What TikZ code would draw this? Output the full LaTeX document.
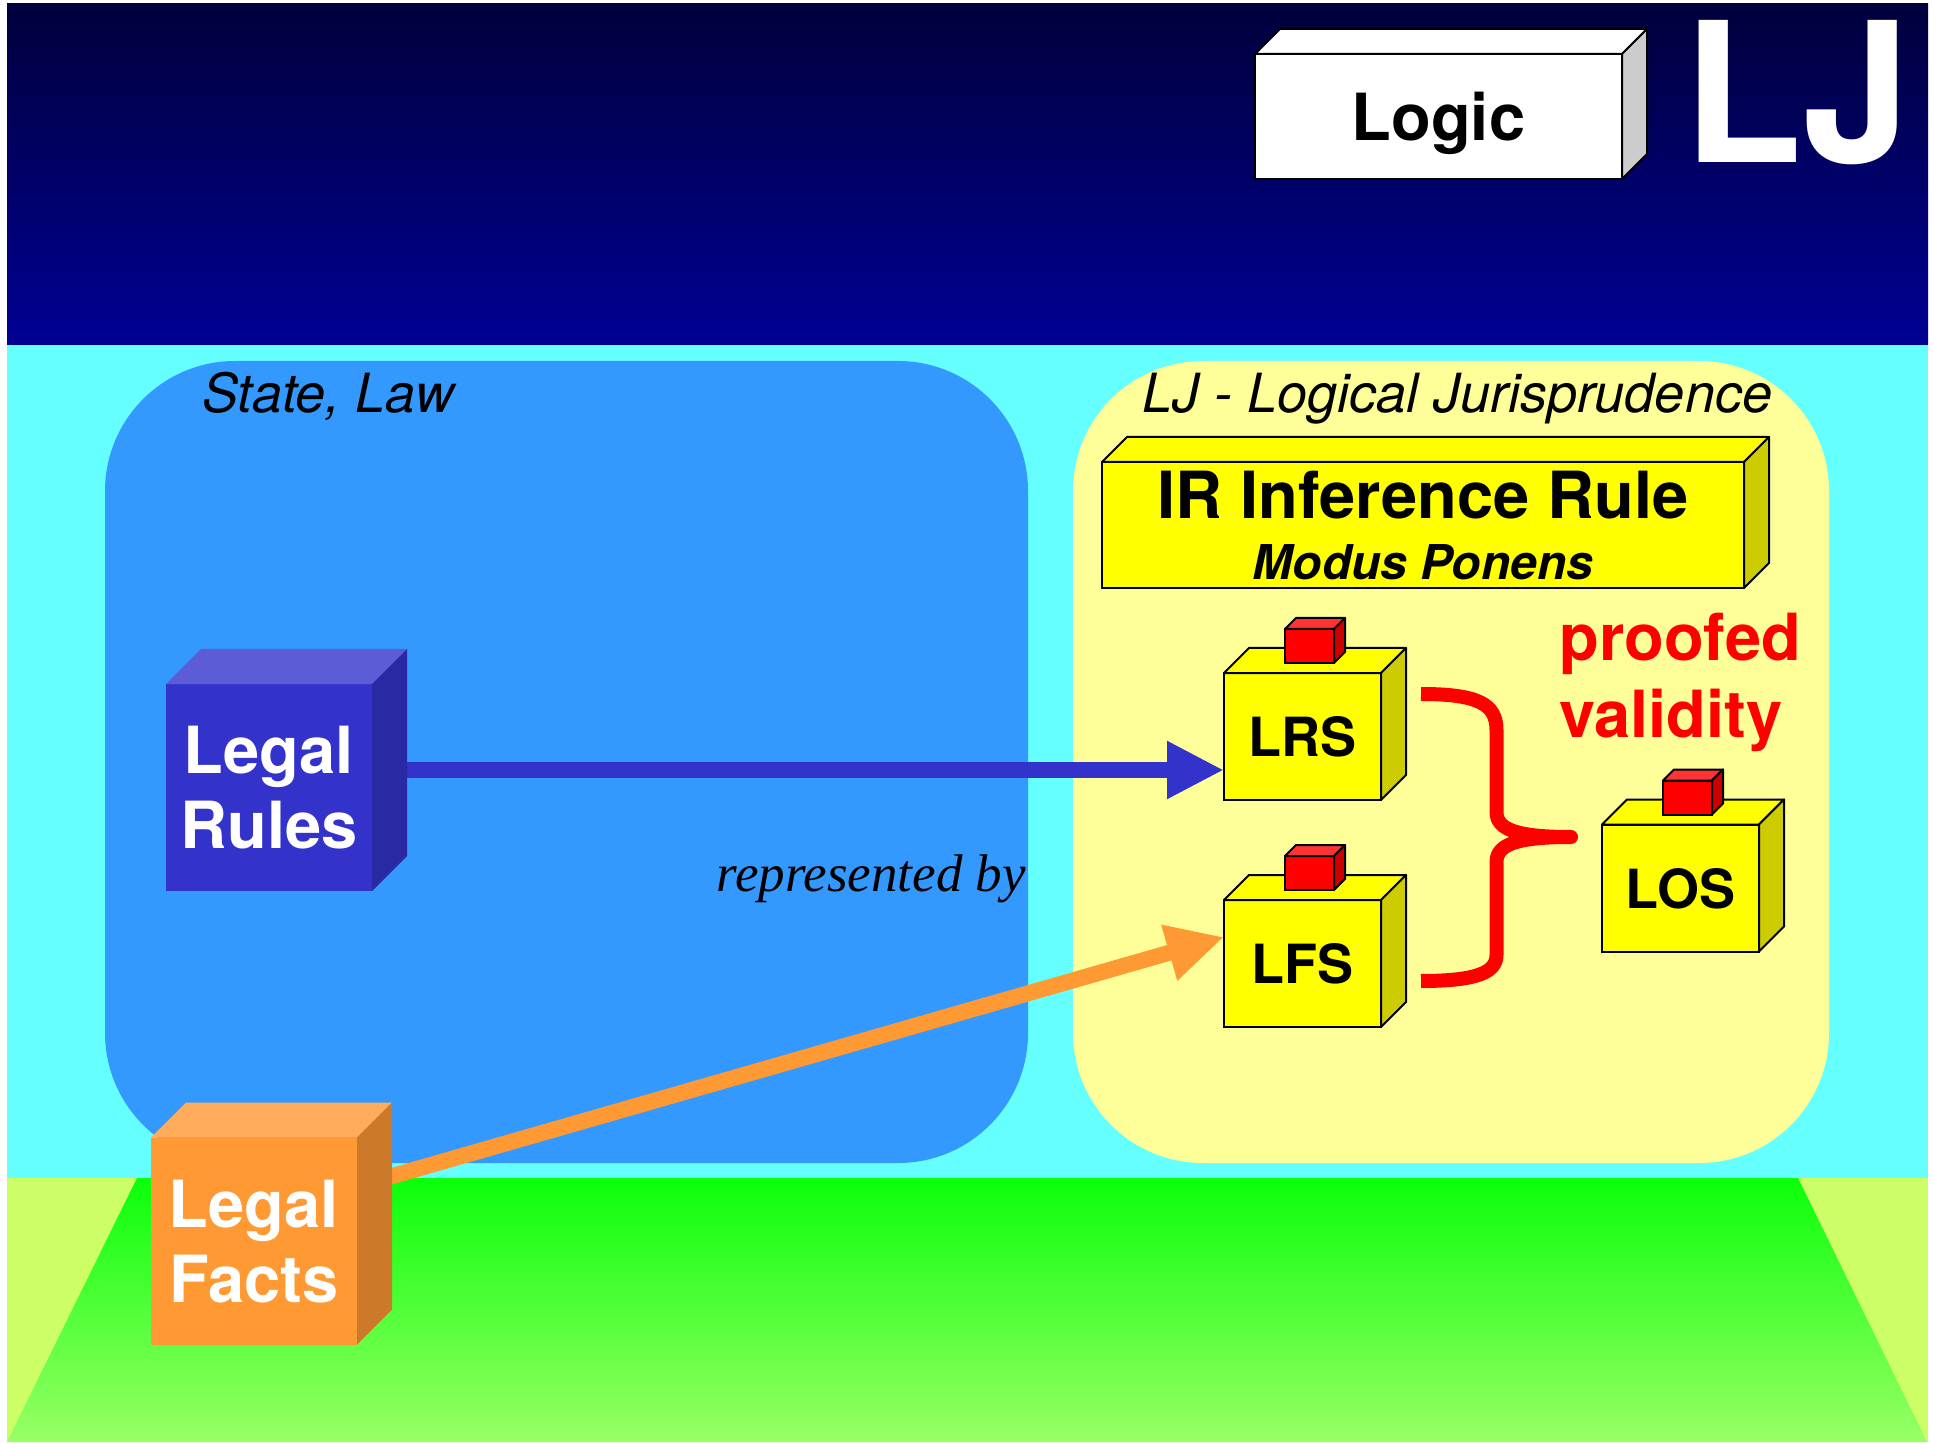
\documentclass[tikz,border=0pt]{standalone}
\usepackage{fontspec}
\setmainfont{TeX Gyre Heros}
\newfontfamily\timesfont{Liberation Serif}
\usetikzlibrary{positioning,arrows.meta}
\definecolor{bandtop}{RGB}{0,0,60}
\definecolor{bandbot}{RGB}{0,0,148}
\definecolor{skycyan}{RGB}{102,255,255}
\definecolor{lawblue}{RGB}{51,153,255}
\definecolor{ljyellow}{RGB}{255,255,153}
\definecolor{floorside}{RGB}{204,255,102}
\definecolor{floortop}{RGB}{10,255,10}
\definecolor{floorbot}{RGB}{153,255,102}
\definecolor{rulesfront}{RGB}{51,51,204}
\definecolor{rulestop}{RGB}{92,92,214}
\definecolor{rulesside}{RGB}{41,41,163}
\definecolor{factsfront}{RGB}{255,153,51}
\definecolor{factstop}{RGB}{255,173,92}
\definecolor{factsside}{RGB}{204,122,41}
\definecolor{boxyellow}{RGB}{255,255,0}
\definecolor{boxside}{RGB}{204,204,0}
\definecolor{redfront}{RGB}{255,0,0}
\definecolor{redtop}{RGB}{255,51,51}
\definecolor{redside}{RGB}{204,0,0}
\definecolor{logicside}{RGB}{204,204,204}
\tikzstyle{region}=[rounded corners=65pt, minimum height=401pt, inner sep=0pt]
\tikzstyle{regiontitle}=[font=\fontsize{27}{32}\selectfont\itshape, anchor=base, inner sep=0pt]
\tikzstyle{cube}=[draw, line width=1pt, fill=boxyellow, minimum width=78.5pt,
    minimum height=63.5pt, inner sep=0pt, outer sep=0pt, text depth=0pt,
    font=\fontsize{27}{32}\selectfont\bfseries]
\tikzstyle{rulebox}=[cube, minimum width=321pt, minimum height=63pt, align=center,
    font=\fontsize{32.5}{30.5}\selectfont\bfseries]
\tikzstyle{redcube}=[draw, line width=1pt, fill=redfront, minimum width=24.5pt,
    minimum height=17pt, inner sep=0pt, outer sep=0pt]
\tikzstyle{legalcube}=[minimum width=103pt, minimum height=103.5pt, inner sep=0pt,
    outer sep=0pt, text=white, align=center, text depth=0pt,
    font=\fontsize{32.5}{37.5}\selectfont\bfseries]
\tikzstyle{logicbox}=[draw, line width=1pt, fill=white, minimum width=183.5pt,
    minimum height=62.5pt, outer sep=0pt, text depth=0pt,
    font=\fontsize{32.5}{39}\selectfont\bfseries]
\tikzstyle{rulearrow}=[draw=rulesfront, line width=8pt, -{Triangle[length=28.5pt,width=27pt]}]
\tikzstyle{factarrow}=[draw=factsfront, line width=8pt, -{Triangle[length=28.5pt,width=27pt]}]

\begin{document}
\begin{tikzpicture}[x=0.5pt,y=-0.5pt]
    \useasboundingbox (0,0) rectangle (1933,1443);
    \fill[white] (0,0) rectangle (1933,1443);
    % backdrop
    \shade[top color=bandtop, bottom color=bandbot] (7,4) rectangle (1928,345);
    \fill[skycyan] (7,345) rectangle (1928,1178);
    \fill[floorside] (7,1178) rectangle (1928,1442);
    \shade[top color=floortop, bottom color=floorbot]
      (137,1178) -- (1798,1178) -- (1927,1442) -- (7,1442) -- cycle;
    \node (law) [region, fill=lawblue, minimum width=461.5pt] at (566.5,762) {};
    \node (lj) [region, fill=ljyellow, minimum width=378pt] at (1451,762) {};
    \node (lawtitle) [regiontitle, anchor=base west] at ([shift={(97,52)}]law.north west)
    {State, Law};
    \node (ljtitle) [regiontitle] at ([shift={(6,52)}]lj.north)
    {LJ - Logical Jurisprudence};
    % header
    \node (ljmark) [anchor=base, text=white, inner sep=0pt,
      font=\fontsize{97.5}{100}\selectfont\bfseries] at (1797,163) {LJ};
    \node (logic) [logicbox] at (1438.5,116.5) {Logic};
    \node (ir) [rulebox] at (1423,525)
    {IR Inference Rule\\{\fontsize{24}{30.5}\selectfont\itshape Modus Ponens}};
    % cubes
    \node (rules) [legalcube, fill=rulesfront] at (269,787.5) {Legal\\Rules};
    \node (facts) [legalcube, fill=factsfront] at (254,1241) {Legal\\Facts};
    \node (lrs) [cube] at (1302.5,736.5) {LRS};
    \node (lfs) [cube, below=50pt of lrs] {LFS};
    \node (los) [cube] at (1680.5,888) {LOS};
    \path [rulearrow] ([yshift=8.75pt]rules.east) coordinate (rulesout) -- (rulesout -| lrs.west);
    \path [factarrow] ([shift={(4,-56)}]facts.east) -- ([shift={(0,-26.5)}]lfs.west);
    \foreach \n/\d/\tc/\sc/\lc in {logic/25/white/logicside/black, ir/25/boxyellow/boxside/black,
      lrs/25/boxyellow/boxside/black, lfs/25/boxyellow/boxside/black, los/25/boxyellow/boxside/black,
      rules/35/rulestop/rulesside/none, facts/35/factstop/factsside/none}
    {
      \path[fill=\tc, draw=\lc, line width=1pt, line join=round]
        (\n.north west) -- ++(\d,-\d) -- ([shift={(\d,-\d)}]\n.north east) -- (\n.north east) -- cycle;
      \path[fill=\sc, draw=\lc, line width=1pt, line join=round]
        (\n.north east) -- ++(\d,-\d) -- ([shift={(\d,-\d)}]\n.south east) -- (\n.south east) -- cycle;
    }
    \path (lrs.north)+(7,-27) node (lrsred) [redcube] {};
    \path (lfs.north)+(7,-27) node (lfsred) [redcube] {};
    \path (los.north)+(7,-27) node (losred) [redcube] {};
    \foreach \n in {lrsred,lfsred,losred}
    {
      \path[fill=redtop, draw, line width=1pt, line join=round]
        (\n.north west) -- ++(11,-11) -- ([shift={(11,-11)}]\n.north east) -- (\n.north east) -- cycle;
      \path[fill=redside, draw, line width=1pt, line join=round]
        (\n.north east) -- ++(11,-11) -- ([shift={(11,-11)}]\n.south east) -- (\n.south east) -- cycle;
    }
    % brace
    \draw[redfront, line width=7pt, line join=round] (1421,694)
      .. controls (1478,694) and (1496.5,704) .. (1496.5,730) -- (1496.5,812)
      .. controls (1496.5,830) and (1518,837) .. (1571,837)
      .. controls (1518,837) and (1496.5,844) .. (1496.5,862) -- (1496.5,955)
      .. controls (1496.5,972) and (1478,981) .. (1421,981);
    \node (proofed) [anchor=base west, text=redfront, align=left, inner sep=0pt,
      font=\fontsize{32.5}{38.5}\selectfont\bfseries] at (1559,737) {proofed\\validity};
    \node (repr) [anchor=base west, inner sep=0pt,
      font=\timesfont\itshape\fontsize{26.5}{32}\selectfont] at (716,891) {represented by};
\end{tikzpicture}
\end{document}
